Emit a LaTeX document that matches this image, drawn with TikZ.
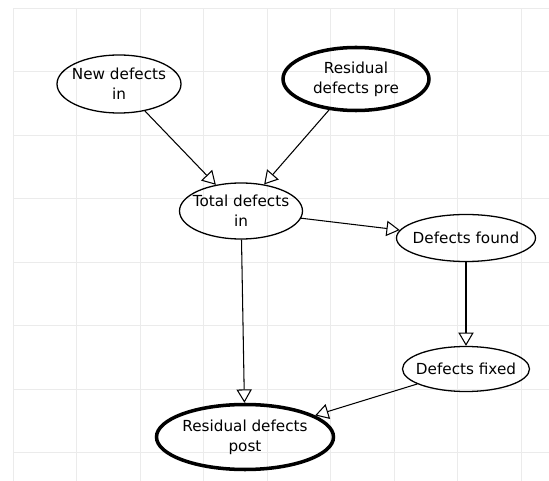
\documentclass[tikz,border=0pt]{standalone}
\usepackage{fontspec}
\setmainfont{DejaVu Sans}
\usepackage{tikz}
\usetikzlibrary{shapes.geometric, arrows.meta}

\tikzset{
    defect/.style={ellipse, draw, line width=1.1pt, inner xsep=-12pt, inner ysep=-4pt, align=center,
        font=\fontsize{13}{17}\selectfont},
    residual/.style={defect, line width=3pt},
    flow/.style={-{Triangle[open, length=0.4cm, width=0.46cm, fill=white]}, line width=0.9pt},
    gridline/.style={draw=black!8, line width=0.6pt}
}

\begin{document}
\begin{tikzpicture}[x=0.03cm, y=-0.03cm]
    \useasboundingbox (0, 0) rectangle (549, 481);
    % Grid
    \foreach \gx in {13,76.5,...,549}
        \draw[gridline] (\gx, 8) -- (\gx, 481);
    \foreach \gy in {8,71.5,...,481}
        \draw[gridline] (13, \gy) -- (549, \gy);

    % Nodes
    \node[defect, minimum width=3.72cm, minimum height=1.74cm] (newin) at (119, 84) {New defects\\in};
    \node[residual, minimum width=4.38cm, minimum height=1.89cm] (respre) at (356, 79) {Residual\\defects pre};
    \node[defect, minimum width=3.69cm, minimum height=1.68cm] (totalin) at (241, 211) {Total defects\\in};
    \node[defect, minimum width=4.17cm, minimum height=1.41cm] (found) at (466, 238) {Defects found};
    \node[defect, minimum width=3.81cm, minimum height=1.35cm] (fixed) at (466, 369) {Defects fixed};
    \node[residual, minimum width=5.31cm, minimum height=1.95cm] (respost) at (245, 437) {Residual defects\\post};

    % Arrows
    \draw[flow] (newin) -- (totalin);
    \draw[flow] (respre) -- (totalin);
    \draw[flow] (totalin) -- (found);
    \draw[flow] (totalin) -- (respost);
    \draw[flow] (found) -- (fixed);
    \draw[flow] (fixed) -- (respost);
\end{tikzpicture}
\end{document}
